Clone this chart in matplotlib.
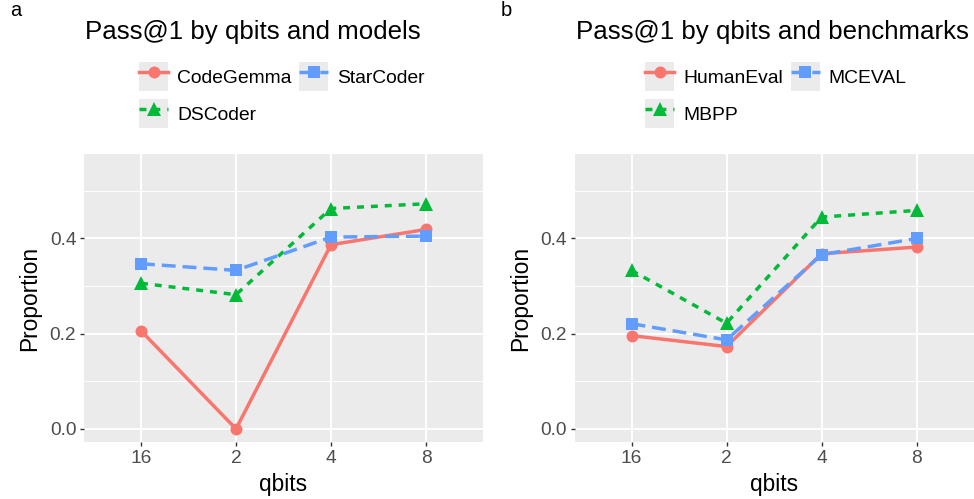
import matplotlib
matplotlib.use("Agg")
import matplotlib.pyplot as plt
from matplotlib.lines import Line2D
from matplotlib.patches import Rectangle
from matplotlib.ticker import FixedLocator

plt.rcParams['font.family'] = ['Liberation Sans', 'DejaVu Sans']

qbits = ['16', '2', '4', '8']

# Panel a: models
model_names = ['CodeGemma', 'DSCoder', 'StarCoder']
codegemma = [0.206, 0.000, 0.387, 0.419]
dscoder = [0.306, 0.282, 0.463, 0.473]
starcoder = [0.347, 0.333, 0.403, 0.405]

# Panel b: benchmarks
bench_names = ['HumanEval', 'MBPP', 'MCEVAL']
humaneval = [0.196, 0.173, 0.368, 0.382]
mbpp = [0.333, 0.222, 0.445, 0.459]
mceval = [0.221, 0.187, 0.366, 0.400]

colors = ['#F8766D', '#00BA38', '#619CFF']
markers = ['o', '^', 's']
msizes = [8.6, 9.6, 8.4]
dashes = [None, (2, 2), (4, 2)]
LW = 2.5

W, H = 974, 499
fig = plt.figure(figsize=(W / 100, H / 100), dpi=100)


def fx(px):
    return px / W


def fy(py):
    return 1 - py / H


def make_panel(x0, names, series, title, title_cx, letter, letter_x, legend_x):
    ax = fig.add_axes([fx(x0), fy(442), 399 / W, 288 / H])
    ax.set_facecolor('#EBEBEB')
    for s in ax.spines.values():
        s.set_visible(False)
    xs = list(range(len(qbits)))
    # lines first
    for vals, c, d in zip(series, colors, dashes):
        ln = ax.plot(xs, vals, color=c, lw=LW, zorder=2, solid_capstyle='butt')[0]
        if d is not None:
            ln.set_dashes(d)
            ln.set_dash_capstyle('butt')
    # points on top
    for vals, c, m, ms in zip(series, colors, markers, msizes):
        ax.plot(xs, vals, linestyle='none', marker=m, ms=ms, color=c,
                markeredgewidth=0, zorder=3)
    ax.set_xlim(-0.6, 3.6)
    ax.set_ylim(-0.0275, 0.5775)
    ax.set_xticks(xs)
    ax.set_xticklabels(qbits)
    ax.set_yticks([0.0, 0.2, 0.4])
    ax.set_yticklabels(['0.0', '0.2', '0.4'])
    ax.yaxis.set_minor_locator(FixedLocator([0.1, 0.3, 0.5]))
    ax.grid(which='major', color='white', lw=1.4, zorder=0)
    ax.grid(which='minor', axis='y', color='white', lw=0.7, zorder=0)
    ax.set_axisbelow(True)
    ax.tick_params(which='major', length=2.9, width=1.0, color='#333333',
                   labelcolor='#4D4D4D', labelsize=13.8, pad=2.6)
    ax.tick_params(which='minor', length=0)
    ax.set_xlabel('qbits', fontsize=16.4, color='black')
    ax.set_ylabel('Proportion', fontsize=16.4, color='black')
    ax.xaxis.set_label_coords(0.5, (442 - 484) / 288)
    ax.xaxis.label.set_va('center')
    ax.yaxis.set_label_coords((30 - 84) / 399, 0.5)
    ax.yaxis.label.set_va('center')

    fig.text(fx(title_cx), fy(38.5), title, fontsize=18.6, ha='center',
             va='baseline', color='black')
    fig.text(fx(letter_x), fy(16), letter, fontsize=14.5, ha='left',
             va='baseline', color='black')

    handles = []
    for c, m, ms, d in zip(colors, markers, msizes, dashes):
        bg = Rectangle((0, 0), 1, 1, facecolor='#EBEBEB', edgecolor='none')
        ln = Line2D([], [], color=c, lw=LW, marker=m, ms=ms, markeredgewidth=0)
        if d is not None:
            ln.set_dashes(d)
        handles.append((bg, ln))
    fs = 13.9
    em = fs * 100 / 72
    key = 29 / em
    ax.legend(handles, names, ncol=2, loc='upper left',
              bbox_to_anchor=(fx(legend_x), fy(62)), bbox_transform=fig.transFigure,
              frameon=False, fontsize=fs, borderpad=0, borderaxespad=0,
              handlelength=key, handleheight=(key - 0.245) / 0.65,
              labelspacing=8 / em, handletextpad=9 / em, columnspacing=8 / em)
    return ax


make_panel(84, model_names, [codegemma, dscoder, starcoder],
           'Pass@1 by qbits and models', 252.5, 'a', 10, 139)
make_panel(574.5, bench_names, [humaneval, mbpp, mceval],
           'Pass@1 by qbits and benchmarks', 772, 'b', 501, 645)

fig.savefig('out.png', dpi=100)
